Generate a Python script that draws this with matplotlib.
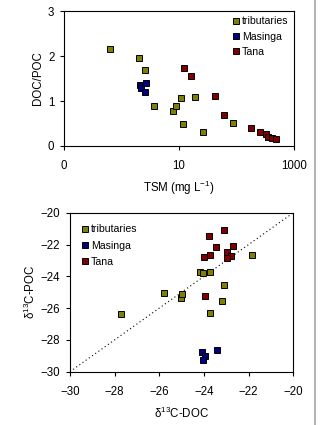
#!/usr/bin/env python3
"""DOC/POC vs TSM and d13C-POC vs d13C-DOC for the Tana basin."""

import matplotlib
matplotlib.use("Agg")
import matplotlib.pyplot as plt
from matplotlib.lines import Line2D

plt.rcParams["font.family"] = ["Liberation Sans", "DejaVu Sans"]
plt.rcParams["mathtext.fontset"] = "custom"
plt.rcParams["mathtext.rm"] = "Liberation Sans"
plt.rcParams["mathtext.default"] = "regular"

# top panel: TSM (mg/L) and DOC/POC
trib_tsm = [0.63, 1.98, 2.59, 3.61, 7.76, 8.97, 10.7, 11.9, 19.0, 25.9, 87.5]
trib_ratio = [2.15, 1.96, 1.70, 0.89, 0.77, 0.88, 1.07, 0.49, 1.10, 0.31, 0.50]
mas_tsm = [2.06, 2.20, 2.65, 2.52]
mas_ratio = [1.36, 1.30, 1.39, 1.21]
tana_tsm = [12.2, 16.2, 43.0, 60.1, 180, 255, 329, 357, 419, 492]
tana_ratio = [1.73, 1.55, 1.12, 0.69, 0.41, 0.32, 0.27, 0.21, 0.18, 0.16]

# bottom panel: d13C-DOC and d13C-POC
trib_doc = [-27.69, -25.79, -25.03, -25.00, -24.16, -24.03, -23.72, -23.12, -23.21, -23.72, -21.84]
trib_poc = [-26.39, -25.05, -25.39, -25.14, -23.75, -23.82, -23.72, -24.56, -25.53, -26.29, -22.68]
mas_doc = [-24.09, -23.96, -24.03, -23.42]
mas_poc = [-28.74, -28.99, -29.29, -28.66]
tana_doc = [-23.76, -23.12, -23.45, -22.72, -24.01, -23.72, -22.96, -22.81, -22.96, -23.96]
tana_poc = [-21.45, -21.11, -22.18, -22.12, -22.81, -22.68, -22.49, -22.70, -22.87, -25.22]

groups = ["tributaries", "Masinga", "Tana"]
colors = ["#808000", "#000080", "#800000"]

MS = 5
FS = 8.3


def scatter(ax, x, y, color, label):
    ax.plot(x, y, linestyle="none", marker="s", markersize=MS, markerfacecolor=color,
            markeredgecolor="black", markeredgewidth=0.7, label=label)


def style(ax):
    for s in ax.spines.values():
        s.set_linewidth(0.8)
    ax.tick_params(direction="out", length=3, width=0.8, labelsize=FS)
    ax.tick_params(axis="x", pad=7)
    ax.tick_params(axis="y", pad=4)
    ax.tick_params(which="minor", length=0)


fig = plt.figure(figsize=(3.22, 4.25), dpi=100)

ax1 = fig.add_axes([0.199, 0.6565, 0.714, 0.3175])
scatter(ax1, trib_tsm, trib_ratio, colors[0], groups[0])
scatter(ax1, mas_tsm, mas_ratio, colors[1], groups[1])
scatter(ax1, tana_tsm, tana_ratio, colors[2], groups[2])
ax1.set_xscale("log")
ax1.set_xlim(0.1, 1000)
ax1.set_xticks([0.1, 10, 1000])
ax1.set_xticklabels(["0", "10", "1000"])
ax1.set_ylim(0, 3)
ax1.set_yticks([0, 1, 2, 3])
ax1.set_xlabel("TSM (mg L$^{-1}$)", fontsize=FS, labelpad=5)
ax1.set_ylabel("DOC/POC", fontsize=FS, labelpad=3)
style(ax1)
ax1.legend(loc="upper right", frameon=False, fontsize=7.6, handlelength=0.6,
           handletextpad=0.3, labelspacing=0.5, borderaxespad=0.3,
           borderpad=0.2)

ax2 = fig.add_axes([0.217, 0.1254, 0.694, 0.3741])
ax2.plot([-30, -20], [-30, -20], linestyle=(0, (1, 2.5)), color="black", linewidth=0.8)
scatter(ax2, trib_doc, trib_poc, colors[0], groups[0])
scatter(ax2, mas_doc, mas_poc, colors[1], groups[1])
scatter(ax2, tana_doc, tana_poc, colors[2], groups[2])
ax2.set_xlim(-30, -20)
ax2.set_ylim(-30, -20)
ax2.set_xticks(range(-30, -19, 2))
ax2.set_yticks(range(-30, -19, 2))
ax2.set_xlabel("δ$^{13}$C-DOC", fontsize=FS, labelpad=6)
ax2.set_ylabel("δ$^{13}$C-POC", fontsize=FS, labelpad=2)
style(ax2)
ax2.legend(loc="upper left", frameon=False, fontsize=7.6, handlelength=0.6,
           handletextpad=0.3, labelspacing=0.6, borderaxespad=0.3,
           borderpad=0.8)

fig.add_artist(Line2D([0.978, 0.978], [0, 1], transform=fig.transFigure,
                      color="#b4b4b4", linewidth=1.5))

fig.savefig("out.png", dpi=100)
plt.close(fig)
